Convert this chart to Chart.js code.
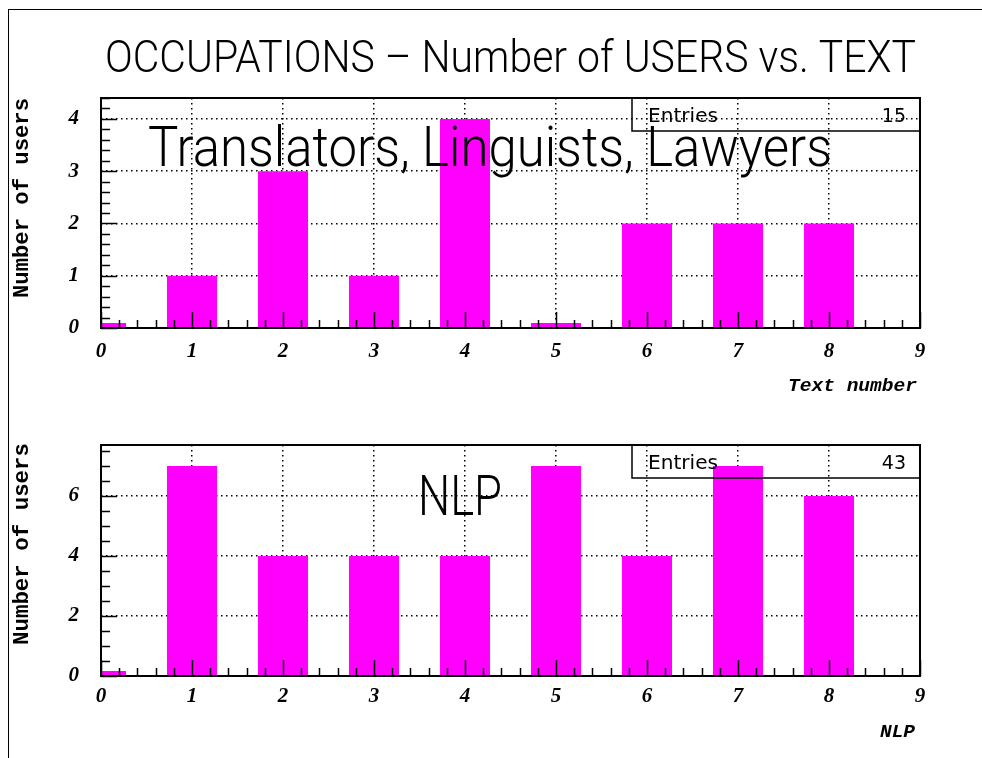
<!DOCTYPE html>
<html>
<head>
<meta charset="utf-8">
<script src="https://cdn.jsdelivr.net/npm/chart.js@4"></script>
<style>
html,body{margin:0;padding:0;background:#fff;}
#wrap{position:relative;width:982px;height:758px;overflow:hidden;background:#fff;}
#frame{position:absolute;left:8px;top:9px;width:990px;height:760px;border-top:1px solid #000;border-left:1px solid #000;box-sizing:border-box;}
.pane{position:absolute;left:0;width:982px;}
</style>
</head>
<body>
<div id="wrap">
  <div id="frame"></div>
  <div class="pane" style="top:0;height:400px;"><canvas id="c1" width="982" height="400"></canvas></div>
  <div class="pane" style="top:400px;height:358px;"><canvas id="c2" width="982" height="358"></canvas></div>
</div>
<script>
// ---------------- data ----------------
const textNumbers     = [0, 1, 2, 3, 4, 5, 6, 7, 8];
const usersLinguists  = [0, 1, 3, 1, 4, 0, 2, 2, 2];
const usersNLP        = [0, 7, 4, 4, 4, 7, 4, 7, 6];
const xTickValues     = [0, 1, 2, 3, 4, 5, 6, 7, 8, 9];
const yTicksTop       = [0, 1, 2, 3, 4];
const yTicksBottom    = [0, 2, 4, 6];
const mainTitle       = 'OCCUPATIONS \u2013 Number of USERS vs. TEXT';
const panelLabels     = ['Translators, Linguists, Lawyers', 'NLP'];
const xAxisTitles     = ['Text number', 'NLP'];
const yAxisTitle      = 'Number of users';
const statLabel       = 'Entries';

// ---------------- helpers ----------------
function drawFitted(ctx, text, font, x0, x1, baseline) {
  ctx.save();
  ctx.font = font;
  ctx.fillStyle = '#000';
  ctx.textBaseline = 'alphabetic';
  ctx.textAlign = 'left';
  const w = ctx.measureText(text).width;
  const sx = (x1 - x0) / w;
  ctx.translate(x0, baseline);
  ctx.scale(sx, 1);
  ctx.fillText(text, 0, 0);
  ctx.restore();
}
function drawFittedVertical(ctx, text, font, cx, y0, y1) {
  ctx.save();
  ctx.font = font;
  ctx.fillStyle = '#000';
  ctx.textBaseline = 'middle';
  ctx.textAlign = 'center';
  const w = ctx.measureText(text).width;
  const s = (y1 - y0) / w;
  ctx.translate(cx, (y0 + y1) / 2);
  ctx.rotate(-Math.PI / 2);
  ctx.scale(s, 1);
  ctx.fillText(text, 0, 0);
  ctx.restore();
}

const hershey = "300 45px 'DejaVu Sans ExtraLight', Roboto, 'Liberation Sans', sans-serif";
const hersheyBig = "300 56px 'DejaVu Sans ExtraLight', Roboto, 'Liberation Sans', sans-serif";
const monoBold = "bold 22px 'Liberation Mono', 'DejaVu Sans Mono', monospace";
const monoBoldItalic = "italic bold 19px 'Liberation Mono', 'DejaVu Sans Mono', monospace";
const statFont = "19px 'DejaVu Sans', 'Liberation Sans', sans-serif";
const tickFont = { family: "'Liberation Serif', 'DejaVu Serif', serif", size: 21, weight: 'bold', style: 'italic' };

function makePanel(canvasId, p) {
  const rootPlugin = {
    id: 'rootStyle',
    afterDraw(chart) {
      const ctx = chart.ctx;
      const a = chart.chartArea;
      const xs = chart.scales.x, ys = chart.scales.y;
      ctx.save();
      ctx.strokeStyle = '#000';
      ctx.lineWidth = 1.5;
      // x ticks (inward)
      const nx = Math.round((xs.max - xs.min) / p.xMinorStep);
      for (let i = 0; i <= nx; i++) {
        const v = xs.min + i * p.xMinorStep;
        const major = Math.abs(v - Math.round(v)) < 1e-6;
        const px = Math.round(xs.getPixelForValue(v)) + 0.5;
        const len = major ? 16 : 8;
        ctx.beginPath(); ctx.moveTo(px, a.bottom); ctx.lineTo(px, a.bottom - len); ctx.stroke();
      }
      // y ticks (inward)
      const ny = Math.floor((ys.max - ys.min) / p.yMinorStep + 1e-6);
      for (let i = 0; i <= ny; i++) {
        const v = ys.min + i * p.yMinorStep;
        const major = p.yTicks.some(t => Math.abs(t - v) < 1e-6);
        const py = Math.round(ys.getPixelForValue(v)) + 0.5;
        const len = major ? 16 : 9;
        ctx.beginPath(); ctx.moveTo(a.left, py); ctx.lineTo(a.left + len, py); ctx.stroke();
      }
      // frame
      ctx.lineWidth = 2;
      ctx.strokeRect(a.left, a.top, a.right - a.left, a.bottom - a.top);
      // stat box
      const bx0 = a.right - 288, by0 = a.top, bh = 33;
      ctx.lineWidth = 1.5;
      ctx.strokeRect(bx0, by0, a.right - bx0, bh);
      ctx.restore();
      const total = p.values.reduce((s, v) => s + v, 0);
      drawFitted(ctx, statLabel, statFont, bx0 + 16, bx0 + 86, by0 + p.statBase);
      ctx.save();
      ctx.font = statFont; ctx.fillStyle = '#000'; ctx.textAlign = 'right'; ctx.textBaseline = 'alphabetic';
      ctx.fillText(String(total), a.right - 14, by0 + p.statBase);
      ctx.restore();
      // panel label
      drawFitted(ctx, p.label, hersheyBig, p.labelX0, p.labelX1, p.labelBase);
      // axis titles
      drawFittedVertical(ctx, yAxisTitle, monoBold, 22, p.yTitleY0, p.yTitleY1);
      drawFitted(ctx, p.xTitle, monoBoldItalic, p.xTitleX0, p.xTitleX1, p.xTitleBase);
      if (p.mainTitle) drawFitted(ctx, p.mainTitle, hershey, 105, 916, 72);
    }
  };

  const gridDash = [1.5, 3.5];
  return new Chart(document.getElementById(canvasId), {
    type: 'bar',
    data: {
      datasets: [{
        data: textNumbers.map((x, i) => ({ x: x, y: p.values[i] })),
        backgroundColor: '#ff00ff',
        borderWidth: 0,
        barPercentage: 0.55,
        categoryPercentage: 1,
        minBarLength: 5
      }]
    },
    options: {
      responsive: false,
      animation: false,
      events: [],
      layout: { padding: { top: p.top, left: 0, right: 62, bottom: 0 } },
      plugins: { legend: { display: false }, tooltip: { enabled: false }, title: { display: false } },
      scales: {
        x: {
          type: 'linear',
          min: 0, max: 9,
          offset: false,
          z: 1,
          afterFit(s) { s.height = p.xHeight; },
          afterBuildTicks(s) { s.ticks = xTickValues.map(v => ({ value: v })); },
          grid: {
            offset: false,
            drawTicks: false,
            lineWidth: 1.5,
            color: c => (c.tick && (c.tick.value === 0 || c.tick.value === 9)) ? 'rgba(0,0,0,0)' : '#000'
          },
          border: { display: false, dash: gridDash },
          ticks: {
            padding: p.xTickPad,
            autoSkip: false,
            maxRotation: 0,
            color: '#000',
            font: tickFont,
            callback: v => String(v)
          }
        },
        y: {
          type: 'linear',
          min: 0, max: p.yMax,
          z: 1,
          afterFit(s) { s.width = 101; },
          afterBuildTicks(s) { s.ticks = p.yTicks.map(v => ({ value: v })); },
          grid: {
            drawTicks: false,
            lineWidth: 1.5,
            color: c => (c.tick && c.tick.value === 0) ? 'rgba(0,0,0,0)' : '#000'
          },
          border: { display: false, dash: gridDash },
          ticks: {
            padding: 22,
            color: '#000',
            font: tickFont,
            callback: v => String(v)
          }
        }
      }
    },
    plugins: [rootPlugin]
  });
}

makePanel('c1', {
  values: usersLinguists, yTicks: yTicksTop, yMax: 4.4,
  xMinorStep: 0.2, yMinorStep: 0.2,
  top: 98, xHeight: 400 - 328, xTickPad: 11,
  statBase: 24,
  label: panelLabels[0], labelX0: 148, labelX1: 832, labelBase: 166,
  xTitle: xAxisTitles[0], xTitleX0: 788, xTitleX1: 917, xTitleBase: 391,
  yTitleY0: 98, yTitleY1: 298,
  mainTitle: mainTitle
});
makePanel('c2', {
  values: usersNLP, yTicks: yTicksBottom, yMax: 7.7,
  xMinorStep: 0.2, yMinorStep: 0.5,
  top: 45, xHeight: 358 - 276, xTickPad: 8,
  statBase: 24,
  label: panelLabels[1], labelX0: 418, labelX1: 502, labelBase: 115,
  xTitle: xAxisTitles[1], xTitleX0: 880, xTitleX1: 915, xTitleBase: 337,
  yTitleY0: 43, yTitleY1: 245
});
</script>
</body>
</html>
